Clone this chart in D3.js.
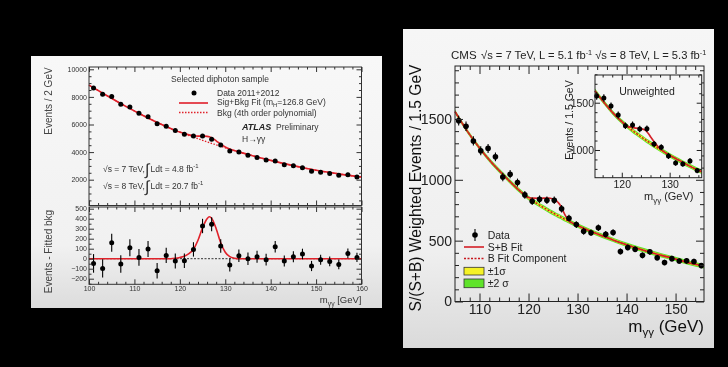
<!DOCTYPE html>
<html>
<head>
<meta charset="utf-8">
<script src="https://cdn.jsdelivr.net/npm/d3@7"></script>
<style>
  body { margin: 0; background: #000; }
  svg { display: block; }
  text { font-family: "Liberation Sans", Arial, sans-serif; }
</style>
</head>
<body>
<svg id="chart" width="728" height="367"></svg>
<script>
// ---- ATLAS panel: diphoton mass spectrum, 2 GeV bins ----
const atlasMass = [101, 103, 105, 107, 109, 111, 113, 115, 117, 119, 121, 123, 125, 127, 129,
                   131, 133, 135, 137, 139, 141, 143, 145, 147, 149, 151, 153, 155, 157, 159];
const atlasEvents = [8640, 8200, 8025, 7460, 7260, 6815, 6570, 6050, 5880, 5560, 5290, 5160, 5160, 4940, 4520,
                     4075, 4000, 3780, 3600, 3430, 3360, 3090, 3010, 2860, 2620, 2540, 2440, 2320, 2350, 2200];
const atlasErr = [93, 91, 90, 87, 85, 83, 81, 78, 77, 75, 73, 72, 72, 70, 67,
                  64, 63, 62, 60, 59, 58, 56, 55, 53, 51, 50, 49, 48, 48, 47];
const atlasResid = [-47, -97, 160, -53, 110, 13, 97, -120, 33, -23, -20, 93, 327, 345, 127,
                    -63, 30, 0, 20, -10, 120, -23, 20, 47, -73, -10, -27, -57, 53, 13];
// fit curves
const atlasFitMass = [100, 104, 108, 112, 116, 118, 119, 120, 121, 122, 123, 124, 125, 126, 126.5,
                      127, 128, 129, 130, 131, 132, 133, 136, 140, 144, 148, 152, 156, 160];
const atlasBkg = [8850, 8080, 7330, 6640, 6000, 5710, 5570, 5440, 5320, 5200, 5085, 4970, 4855, 4740, 4685,
                  4630, 4520, 4415, 4310, 4210, 4110, 4015, 3740, 3400, 3090, 2810, 2570, 2370, 2200];
const atlasSig = [0, 0, 0, 0, 0, 0, 4, 12, 25, 50, 95, 185, 310, 400, 420,
                  405, 300, 160, 65, 20, 5, 0, 0, 0, 0, 0, 0, 0, 0];
const atlasYTicks = [2000, 4000, 6000, 8000, 10000];
const atlasResTicks = [-200, -100, 0, 100, 200, 300, 400, 500];
const atlasXTicks = [100, 110, 120, 130, 140, 150, 160];

// ---- CMS panel: weighted events, 1.5 GeV bins ----
const cmsMass = [105.75, 107.25, 108.75, 110.25, 111.75, 113.25, 114.75, 116.25, 117.75, 119.25, 120.75, 122.25,
                 123.75, 125.25, 126.75, 128.25, 129.75, 131.25, 132.75, 134.25, 135.75, 137.25, 138.75, 140.25,
                 141.75, 143.25, 144.75, 146.25, 147.75, 149.25, 150.75, 152.25, 153.75, 155.25];
const cmsEvents = [1486, 1440, 1319, 1239, 1258, 1189, 1023, 1046, 977, 876, 824, 840,
                   832, 832, 762, 684, 632, 577, 565, 606, 553, 567, 411, 444,
                   429, 379, 408, 359, 320, 352, 333, 334, 329, 295];
const cmsErr = [40, 39, 38, 37, 37, 36, 34, 34, 33, 32, 31, 31,
                31, 31, 30, 29, 28, 28, 27, 27, 27, 27, 25, 25,
                25, 24, 24, 23, 23, 23, 23, 23, 23, 22];
const cmsFitMass = [105, 107.5, 110, 112.5, 115, 117.5, 119, 120, 121, 122, 123, 124, 125, 125.5, 126, 126.5,
                    127, 127.5, 128, 128.5, 129, 130, 132.5, 135, 137.5, 140, 142.5, 145, 147.5, 150, 152.5, 155.8];
const cmsBkg = [1560, 1400, 1262, 1140, 1035, 935, 882, 850, 824, 798, 774, 750, 727, 716, 705, 695,
                684, 673, 663, 653, 643, 624, 580, 540, 502, 466, 433, 403, 375, 349, 320, 290];
const cmsSig = [0, 0, 0, 0, 0, 0, 0, 5, 25, 50, 75, 100, 115, 118, 110, 95,
                65, 35, 12, 3, 0, 0, 0, 0, 0, 0, 0, 0, 0, 0, 0, 0];
const cmsBand = [9, 18];          // +-1 sigma, +-2 sigma
const cmsYTicks = [0, 500, 1000, 1500];
const cmsXTicks = [110, 120, 130, 140, 150];

// ---- CMS inset: unweighted ----
const insetMass = [114.75, 116.25, 117.75, 119.25, 120.75, 122.25, 123.75, 125.25, 126.75, 128.25,
                   129.75, 131.25, 132.75, 134.25, 135.75];
const insetEvents = [1571, 1550, 1465, 1370, 1257, 1264, 1222, 1225, 1063, 1028, 937, 863, 852, 884, 782];
const insetErr = [40, 39, 38, 37, 35, 36, 35, 35, 33, 32, 31, 29, 29, 30, 28];
const insetFitMass = [114.4, 116, 118, 120, 121, 122, 123, 124, 124.8, 125.5, 126, 127, 128, 129, 130, 132, 134, 136.7];
const insetBkg = [1625, 1520, 1400, 1300, 1256, 1215, 1176, 1140, 1112, 1088, 1070, 1037, 1005, 975, 945, 890, 835, 770];
const insetSig = [0, 0, 0, 0, 0, 25, 55, 85, 100, 90, 70, 35, 8, 0, 0, 0, 0, 0];
const insetBand = [12, 24];
const insetYTicks = [1000, 1500];
const insetXTicks = [120, 130];

const svg = d3.select('#chart');
const defs = svg.append('defs');
function gradient(id, stops) {
  const lg = defs.append('linearGradient').attr('id', id)
    .attr('x1', 0).attr('y1', 0).attr('x2', 0).attr('y2', 1);
  stops.forEach(s => lg.append('stop').attr('offset', s[0]).attr('stop-color', s[1]));
}
gradient('atlasBg', [[0, '#f8f8f8'], [0.75, '#f1f1f1'], [1, '#dcdcdc']]);
gradient('cmsBg', [[0, '#f6f6f6'], [0.7, '#efefef'], [1, '#dadada']]);
defs.append('filter').attr('id', 'soft').append('feGaussianBlur').attr('stdDeviation', 0.35);

const root = svg.append('g').attr('filter', 'url(#soft)');

// inward ticks on all four sides, ROOT style
function frameAxes(g, x, y, o) {
  const [xl, xr] = x.range(), [yb, yt] = y.range();
  const fmt = d3.format('d');
  const sides = [
    { axis: () => d3.axisBottom(x), t: `translate(0,${yb})`, major: o.xMajor, minor: o.xMinor, pad: o.xPad },
    { axis: () => d3.axisTop(x), t: `translate(0,${yt})`, major: o.xMajor, minor: o.xMinor },
    { axis: () => d3.axisLeft(y), t: `translate(${xl},0)`, major: o.yMajor, minor: o.yMinor, pad: o.yPad },
    { axis: () => d3.axisRight(y), t: `translate(${xr},0)`, major: o.yMajor, minor: o.yMinor }
  ];
  sides.forEach(s => {
    const minor = s.minor.filter(v => s.major.indexOf(v) < 0);
    g.append('g').attr('transform', s.t)
      .call(s.axis().tickValues(minor).tickSize(-o.minorLen).tickFormat(''));
    g.append('g').attr('transform', s.t)
      .call(s.axis().tickValues(s.major).tickSize(-o.majorLen)
        .tickPadding(s.pad === undefined ? 2 : s.pad)
        .tickFormat(s.pad === undefined ? '' : fmt));
  });
  g.selectAll('.domain').remove();
  g.selectAll('.tick line').attr('stroke', o.color).attr('stroke-width', 1);
  g.selectAll('.tick text').attr('font-size', o.fontSize).attr('fill', o.color);
  g.append('rect').attr('x', xl).attr('y', yt).attr('width', xr - xl).attr('height', yb - yt)
    .attr('fill', 'none').attr('stroke', o.color).attr('stroke-width', 1);
}

// text with sub/superscript parts: [string, offsetY, scale]
function richText(g, x, y, parts, size, anchor, fill) {
  const t = g.append('text').attr('x', x).attr('y', y).attr('font-size', size)
    .attr('text-anchor', anchor || 'start').attr('fill', fill || '#222');
  let prev = 0;
  parts.forEach(p => {
    const off = p[1] || 0;
    t.append('tspan').attr('dy', off - prev).attr('font-size', size * (p[2] || 1)).text(p[0]);
    prev = off;
  });
  return t;
}

function points(g, x, y, mass, vals, errs, r) {
  const pts = mass.map((m, i) => ({ m: m, v: vals[i], e: errs[i] }));
  g.append('g').selectAll('line').data(pts).join('line')
    .attr('x1', d => x(d.m)).attr('x2', d => x(d.m))
    .attr('y1', d => y(d.v - d.e)).attr('y2', d => y(d.v + d.e))
    .attr('stroke', '#000').attr('stroke-width', 1.1);
  g.append('g').selectAll('circle').data(pts).join('circle')
    .attr('cx', d => x(d.m)).attr('cy', d => y(d.v)).attr('r', r).attr('fill', '#000');
}

// ===================== ATLAS =====================
root.append('rect').attr('x', 31).attr('y', 56).attr('width', 351).attr('height', 252).attr('fill', 'url(#atlasBg)');
const atlas = root.append('g');
const ax = d3.scaleLinear().domain([100, 160]).range([89, 361.5]);
const ayTop = d3.scaleLinear().domain([130, 10167]).range([205.5, 67]);
const ayRes = d3.scaleLinear().domain([-256, 517]).range([284.3, 207]);

const atlasFit = atlasFitMass.map((m, i) => ({ m: m, b: atlasBkg[i], s: atlasSig[i] }));

// upper: background dotted, sig+bkg solid
atlas.append('path').datum(atlasFit)
  .attr('d', d3.line().x(d => ax(d.m)).y(d => ayTop(d.b)).curve(d3.curveMonotoneX))
  .attr('fill', 'none').attr('stroke', '#e0202a').attr('stroke-width', 1.3).attr('stroke-dasharray', '1.5,1.5');
atlas.append('path').datum(atlasFit)
  .attr('d', d3.line().x(d => ax(d.m)).y(d => ayTop(d.b + d.s)).curve(d3.curveMonotoneX))
  .attr('fill', 'none').attr('stroke', '#e0202a').attr('stroke-width', 1.6);
points(atlas, ax, ayTop, atlasMass, atlasEvents, atlasErr, 2.5);

// lower: residuals
atlas.append('line').attr('x1', ax(100)).attr('x2', ax(160)).attr('y1', ayRes(0)).attr('y2', ayRes(0))
  .attr('stroke', '#333').attr('stroke-width', 1).attr('stroke-dasharray', '2,1.5');
atlas.append('path').datum(atlasFit)
  .attr('d', d3.line().x(d => ax(d.m)).y(d => ayRes(d.s)).curve(d3.curveMonotoneX))
  .attr('fill', 'none').attr('stroke', '#e0202a').attr('stroke-width', 1.6);
points(atlas, ax, ayRes, atlasMass, atlasResid, atlasErr, 2.5);

frameAxes(atlas.append('g'), ax, ayTop, {
  xMajor: atlasXTicks, xMinor: d3.range(100, 161, 2),
  yMajor: atlasYTicks, yMinor: d3.range(500, 10001, 500),
  yPad: 2, majorLen: 5, minorLen: 2.5, color: '#333', fontSize: 7
});
frameAxes(atlas.append('g'), ax, ayRes, {
  xMajor: atlasXTicks, xMinor: d3.range(100, 161, 2),
  yMajor: atlasResTicks, yMinor: d3.range(-250, 501, 50),
  xPad: 2, yPad: 2, majorLen: 5, minorLen: 2.5, color: '#333', fontSize: 7
});

atlas.append('text').attr('transform', 'translate(51.5,101) rotate(-90)')
  .attr('text-anchor', 'middle').attr('font-size', 10).attr('fill', '#444').text('Events / 2 GeV');
atlas.append('text').attr('transform', 'translate(51.5,251.5) rotate(-90)')
  .attr('text-anchor', 'middle').attr('font-size', 10).attr('fill', '#444').text('Events - Fitted bkg');
richText(atlas, 361.5, 303, [['m', 0], ['γγ', 2.5, 0.72], [' [GeV]', 0]], 9.5, 'end', '#333');

// legend
atlas.append('text').attr('x', 220).attr('y', 82).attr('text-anchor', 'middle')
  .attr('font-size', 8.5).attr('fill', '#333').text('Selected diphoton sample');
atlas.append('circle').attr('cx', 194).attr('cy', 93).attr('r', 2.5).attr('fill', '#000');
atlas.append('text').attr('x', 217).attr('y', 96).attr('font-size', 8.5).attr('fill', '#333').text('Data 2011+2012');
atlas.append('line').attr('x1', 179).attr('x2', 208).attr('y1', 103).attr('y2', 103)
  .attr('stroke', '#e0202a').attr('stroke-width', 1.6);
richText(atlas, 217, 105, [['Sig+Bkg Fit (m', 0], ['H', 2.3, 0.7], ['=126.8 GeV)', 0]], 8.5, 'start', '#333');
atlas.append('line').attr('x1', 179).attr('x2', 208).attr('y1', 112.5).attr('y2', 112.5)
  .attr('stroke', '#e0202a').attr('stroke-width', 1.3).attr('stroke-dasharray', '1.5,1.5');
atlas.append('text').attr('x', 217).attr('y', 115.5).attr('font-size', 8.5).attr('fill', '#333').text('Bkg (4th order polynomial)');
atlas.append('text').attr('x', 242).attr('y', 129.5).attr('font-size', 9).attr('font-weight', 'bold')
  .attr('font-style', 'italic').attr('fill', '#222').text('ATLAS');
atlas.append('text').attr('x', 276).attr('y', 129.5).attr('font-size', 8.5).attr('fill', '#333').text('Preliminary');
atlas.append('text').attr('x', 242).attr('y', 141.5).attr('font-size', 8.5).attr('fill', '#333').text('H→γγ');

[['√s = 7 TeV,', 'Ldt = 4.8 fb', 171.5], ['√s = 8 TeV,', 'Ldt = 20.7 fb', 188.5]].forEach(r => {
  atlas.append('text').attr('x', 103).attr('y', r[2]).attr('font-size', 8.5).attr('fill', '#333').text(r[0]);
  atlas.append('text').attr('x', 145).attr('y', r[2] + 3).attr('font-size', 16).attr('fill', '#333').text('∫');
  richText(atlas, 150.5, r[2], [[r[1], 0], ['-1', -4, 0.7]], 8.5, 'start', '#333');
});

// ===================== CMS =====================
root.append('rect').attr('x', 403).attr('y', 29).attr('width', 311).attr('height', 319).attr('fill', 'url(#cmsBg)');
const cms = root.append('g');
const cx = d3.scaleLinear().domain([105, 155.8]).range([455, 704]);
const cy = d3.scaleLinear().domain([0, 1935]).range([301.5, 66]);

const cmsFit = cmsFitMass.map((m, i) => ({ m: m, b: cmsBkg[i], s: cmsSig[i] }));

function fitBands(g, x, y, fit, band) {
  g.append('path').datum(fit)
    .attr('d', d3.area().x(d => x(d.m)).y0(d => y(d.b - band[1])).y1(d => y(d.b + band[1])).curve(d3.curveMonotoneX))
    .attr('fill', '#5fe32a');
  g.append('path').datum(fit)
    .attr('d', d3.area().x(d => x(d.m)).y0(d => y(d.b - band[0])).y1(d => y(d.b + band[0])).curve(d3.curveMonotoneX))
    .attr('fill', '#f5f227');
  g.append('path').datum(fit)
    .attr('d', d3.line().x(d => x(d.m)).y(d => y(d.b)).curve(d3.curveMonotoneX))
    .attr('fill', 'none').attr('stroke', '#c8141e').attr('stroke-width', 1.4).attr('stroke-dasharray', '2,1.5');
  g.append('path').datum(fit)
    .attr('d', d3.line().x(d => x(d.m)).y(d => y(d.b + d.s)).curve(d3.curveMonotoneX))
    .attr('fill', 'none').attr('stroke', '#d42028').attr('stroke-width', 1.6);
}

fitBands(cms, cx, cy, cmsFit, cmsBand);
points(cms, cx, cy, cmsMass, cmsEvents, cmsErr, 2.8);
frameAxes(cms.append('g'), cx, cy, {
  xMajor: cmsXTicks, xMinor: d3.range(106, 156, 2),
  yMajor: cmsYTicks, yMinor: d3.range(0, 1901, 100),
  xPad: 3, yPad: 3, majorLen: 8, minorLen: 4, color: '#222', fontSize: 14
});

// inset
const inset = cms.append('g');
const ix = d3.scaleLinear().domain([114.4, 136.7]).range([595, 701.7]);
const iy = d3.scaleLinear().domain([707, 1793]).range([177.7, 75]);
inset.append('rect').attr('x', 595).attr('y', 75).attr('width', 106.7).attr('height', 102.7).attr('fill', '#f6f6f6');
const insetFit = insetFitMass.map((m, i) => ({ m: m, b: insetBkg[i], s: insetSig[i] }));
fitBands(inset, ix, iy, insetFit, insetBand);
points(inset, ix, iy, insetMass, insetEvents, insetErr, 2.5);
frameAxes(inset.append('g'), ix, iy, {
  xMajor: insetXTicks, xMinor: d3.range(116, 137, 2),
  yMajor: insetYTicks, yMinor: d3.range(800, 1801, 100),
  xPad: 3, yPad: 1, majorLen: 5, minorLen: 2.5, color: '#222', fontSize: 10.5
});
inset.append('text').attr('x', 647).attr('y', 95).attr('text-anchor', 'middle')
  .attr('font-size', 10.5).attr('fill', '#222').text('Unweighted');
inset.append('text').attr('transform', 'translate(572.5,120) rotate(-90)')
  .attr('text-anchor', 'middle').attr('font-size', 10.5).attr('fill', '#222').text('Events / 1.5 GeV');
richText(inset, 693.5, 200, [['m', 0], ['γγ', 3, 0.72], [' (GeV)', 0]], 11, 'end');

// titles
cms.append('text').attr('transform', 'translate(421,188) rotate(-90)')
  .attr('text-anchor', 'middle').attr('font-size', 16).attr('fill', '#111')
  .attr('textLength', 247).attr('lengthAdjust', 'spacingAndGlyphs')
  .text('S/(S+B) Weighted Events / 1.5 GeV');
richText(cms, 704, 332, [['m', 0], ['γγ', 4, 0.68], [' (GeV)', 0]], 17, 'end', '#111');

cms.append('text').attr('x', 451).attr('y', 59).attr('font-size', 11.5).attr('fill', '#222').text('CMS');
richText(cms, 481, 59, [['√s = 7 TeV, L = 5.1 fb', 0], ['-1', -4.5, 0.65], [' ', 0], ['√s = 8 TeV, L = 5.3 fb', 0], ['-1', -4.5, 0.65]],
  11.2, 'start', '#222');

// legend
const leg = cms.append('g');
leg.append('line').attr('x1', 475).attr('x2', 475).attr('y1', 229).attr('y2', 241).attr('stroke', '#000').attr('stroke-width', 1.1);
leg.append('circle').attr('cx', 475).attr('cy', 235).attr('r', 2.8).attr('fill', '#000');
leg.append('line').attr('x1', 464).attr('x2', 484).attr('y1', 247).attr('y2', 247).attr('stroke', '#d42028').attr('stroke-width', 1.6);
leg.append('line').attr('x1', 464).attr('x2', 484).attr('y1', 258.5).attr('y2', 258.5)
  .attr('stroke', '#c8141e').attr('stroke-width', 1.4).attr('stroke-dasharray', '2,1.5');
leg.append('rect').attr('x', 464).attr('y', 267.3).attr('width', 20).attr('height', 7.7)
  .attr('fill', '#f5f227').attr('stroke', '#333').attr('stroke-width', 0.8);
leg.append('rect').attr('x', 464).attr('y', 279).attr('width', 20).attr('height', 8.7)
  .attr('fill', '#5fe32a').attr('stroke', '#333').attr('stroke-width', 0.8);
[['Data', 239], ['S+B Fit', 250.5], ['B Fit Component', 262], ['±1σ', 275], ['±2 σ', 287]].forEach(d => {
  leg.append('text').attr('x', 487.7).attr('y', d[1]).attr('font-size', 10.5).attr('fill', '#222').text(d[0]);
});
</script>
</body>
</html>
